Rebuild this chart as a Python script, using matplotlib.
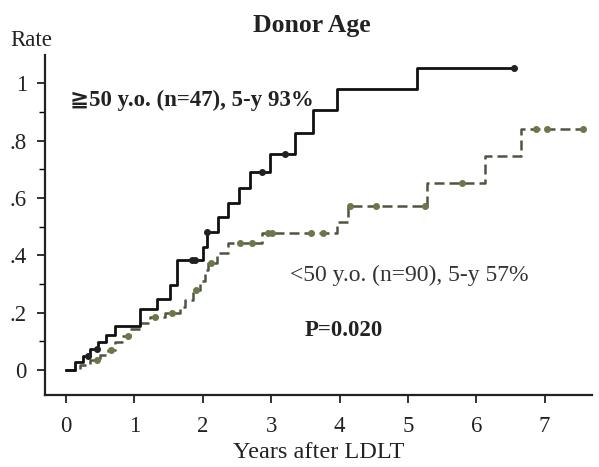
import numpy as np
import matplotlib.pyplot as plt

# Donor >= 50 y.o. (n=47): event times (years) and cumulative rate after each step
old_t = [0, 0.13, 0.25, 0.35, 0.47, 0.58, 0.72, 1.08, 1.33, 1.52, 1.62, 2.00, 2.06,
         2.22, 2.37, 2.53, 2.69, 2.98, 3.35, 3.61, 3.96, 5.13]
old_rate = [0, 0.028, 0.049, 0.073, 0.098, 0.122, 0.153, 0.213, 0.247, 0.296, 0.383,
            0.429, 0.481, 0.533, 0.582, 0.634, 0.690, 0.753, 0.826, 0.906, 0.979, 1.052]
old_end = 6.55
old_cens = [0.32, 0.45, 1.84, 1.88, 2.06, 2.86, 3.20, 6.55]

# Donor < 50 y.o. (n=90)
young_t = [0, 0.20, 0.35, 0.50, 0.61, 0.72, 0.82, 0.94, 1.08, 1.23, 1.45, 1.67, 1.74,
           1.86, 1.96, 2.03, 2.08, 2.21, 2.37, 2.86, 3.96, 4.12, 5.28, 6.12, 6.66]
young_rate = [0, 0.017, 0.035, 0.052, 0.070, 0.098, 0.120, 0.143, 0.164, 0.185, 0.200,
              0.220, 0.244, 0.279, 0.310, 0.348, 0.373, 0.408, 0.443, 0.477, 0.516,
              0.571, 0.652, 0.746, 0.840]
young_end = 7.58
young_cens = [0.45, 0.66, 0.90, 1.30, 1.55, 1.90, 2.12, 2.54, 2.72, 2.95, 3.01, 3.59,
              3.76, 4.15, 4.54, 5.25, 5.79, 6.88, 7.03, 7.56]

x_ticks = [0, 1, 2, 3, 4, 5, 6, 7]
y_ticks = [0, 0.2, 0.4, 0.6, 0.8, 1.0]
y_tick_labels = ['0', '.2', '.4', '.6', '.8', '1']

serif = ['Liberation Serif', 'DejaVu Sans']
plt.rcParams['font.family'] = serif

fig = plt.figure(figsize=(5.99, 4.67), dpi=100)
ax = fig.add_axes([0.0751, 0.1542, 0.913, 0.728])


def draw_curve(times, rates, end, cens, color, mcolor, **kw):
    xs = list(times) + [end]
    ys = list(rates) + [rates[-1]]
    ax.step(xs, ys, where='post', color=color, **kw)
    idx = np.searchsorted(times, cens, side='right') - 1
    ax.plot(cens, np.array(rates)[idx], 'o', ms=4, color=mcolor, zorder=4)


draw_curve(young_t, young_rate, young_end, young_cens, '#4e5540', '#6b784a',
           lw=1.8, dashes=(4, 2), zorder=2)
draw_curve(old_t, old_rate, old_end, old_cens, '#111111', '#222222',
           lw=2.0, zorder=3)

ax.set_xlim(-0.307, 7.69)
ax.set_ylim(-0.087, 1.098)
ax.set_xticks(x_ticks)
ax.set_yticks(y_ticks)
ax.set_yticklabels(y_tick_labels)
ax.set_yticks(np.arange(0.1, 1.0, 0.2), minor=True)
ax.tick_params(axis='both', direction='out', labelsize=16.5, width=1.3,
               length=6, colors='#222222')
ax.tick_params(axis='y', which='minor', direction='out', length=4, width=1.0)
ax.tick_params(axis='x', pad=9)
ax.tick_params(axis='y', pad=7)

for s in ['top', 'right']:
    ax.spines[s].set_visible(False)
for s in ['left', 'bottom']:
    ax.spines[s].set_linewidth(1.6)
    ax.spines[s].set_color('#222222')

ax.set_xlabel('Years after LDLT', fontsize=17.5, color='#222222', labelpad=4)

fig.text(0.521, 0.946, 'Donor Age', ha='center', va='center', fontsize=18.5,
         fontweight='bold', color='#222222')
fig.text(0.017, 0.914, 'Rate', ha='left', va='center', fontsize=16.5,
         color='#222222')

ax.text(0.06, 0.94, '\u226750 y.o. (n=47), 5-y 93%', ha='left', va='center',
        fontsize=16.5, fontweight='bold', color='#222222')
ax.text(3.27, 0.331, '<50 y.o. (n=90), 5-y 57%', ha='left', va='center',
        fontsize=17, color='#333333')
ax.text(3.49, 0.139, 'P=0.020', ha='left', va='center', fontsize=16.5,
        fontweight='bold', color='#222222')

fig.savefig('out.png', dpi=100)
